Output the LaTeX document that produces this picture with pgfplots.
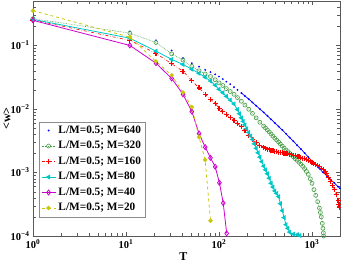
\documentclass[border=0pt]{standalone}
\usepackage{fontspec}
\setmainfont{Liberation Serif}
\usepackage{pgfplots}
\usepackage{pgfplotstable}
\pgfplotsset{compat=1.18}
\definecolor{cB}{rgb}{0,0,1}
\definecolor{cG}{rgb}{0.28,0.62,0.28}
\definecolor{cR}{rgb}{1,0,0}
\definecolor{cC}{rgb}{0,0.78,0.78}
\definecolor{cM}{rgb}{0.8,0,0.8}
\definecolor{cY}{rgb}{0.78,0.78,0.05}

\pgfplotstableread{
T w
1 0.257
11 0.166
21 0.120
31 0.0832
41 0.0631
51 0.0525
61 0.0462
71 0.0412
81 0.0380
91 0.0351
100 0.0324
110 0.0295
120 0.0269
132 0.0245
145 0.0221
158 0.0200
174 0.01786
190 0.0160
209 0.01426
229 0.01265
251 0.01122
275 0.00995
302 0.00883
331 0.0078
363 0.00686
398 0.00603
437 0.0053
479 0.00466
525 0.00407
575 0.00355
631 0.00309
692 0.00269
759 0.00234
832 0.00203
912 0.00175
1000 0.00151
1096 0.00132
1202 0.00115
1318 0.001
1445 0.000883
1585 0.000776
1738 0.000682
1905 0.0006
1995 0.000562
}\tblue

\pgfplotstableread{
T w
1 0.264
11 0.156
21 0.111
31 0.0736
41 0.0589
51 0.0468
61 0.0398
71 0.0355
81 0.0324
91 0.0288
100 0.0257
110 0.0234
120 0.0209
132 0.0188
145 0.0170
158 0.0151
174 0.0132
190 0.0115
209 0.00989
229 0.00851
251 0.00724
275 0.00617
302 0.00537
316 0.00501
331 0.00468
347 0.00434
363 0.00403
380 0.00374
398 0.00347
417 0.00324
437 0.00302
457 0.0028
479 0.0026
501 0.00242
525 0.00226
550 0.00213
575 0.0020
603 0.00188
631 0.00176
661 0.00165
692 0.00155
724 0.00145
759 0.00135
795 0.00125
832 0.00115
871 0.00104
912 0.000933
960 0.000794
1000 0.000676
1050 0.000537
1096 0.000437
1150 0.000347
1202 0.000275
1230 0.000234
1259 0.0002
1290 0.000158
1310 0.000132
1325 0.000112
1333 0.0001
}\tgreen

\pgfplotstableread{
T w
1 0.252
11 0.120
21 0.075
31 0.0513
41 0.0393
51 0.0279
61 0.0214
71 0.0170
81 0.0141
91 0.0123
100 0.0102
110 0.00912
120 0.00813
132 0.00724
145 0.00661
158 0.00589
174 0.00525
190 0.00457
209 0.0038
229 0.00331
251 0.00295
275 0.00269
302 0.00251
316 0.00242
331 0.00234
347 0.00229
363 0.00224
380 0.0022
398 0.00216
417 0.00212
437 0.00209
457 0.00206
479 0.00204
501 0.00202
525 0.0020
550 0.00197
575 0.00195
603 0.0019
631 0.00186
661 0.00183
692 0.0018
724 0.00176
759 0.00172
795 0.00168
832 0.00164
871 0.0016
912 0.00155
955 0.0015
1000 0.00145
1047 0.0014
1096 0.00135
1148 0.00129
1202 0.00123
1259 0.00117
1318 0.0011
1380 0.00103
1445 0.000955
1514 0.00084
1585 0.000724
1660 0.00063
1738 0.000537
1820 0.000447
1905 0.000363
1950 0.000316
1995 0.000282
}\tred

\pgfplotstableread{
T w
1 0.257
11 0.130
21 0.0813
31 0.0603
41 0.0501
51 0.0422
61 0.0363
71 0.0316
81 0.0275
91 0.0237
100 0.0204
110 0.0180
120 0.0158
132 0.0138
145 0.0120
158 0.00977
166 0.00841
174 0.00724
182 0.00638
190 0.00562
199 0.0049
209 0.00427
219 0.00376
229 0.00331
240 0.00282
251 0.0024
263 0.00204
275 0.00174
288 0.00148
302 0.00126
316 0.0011
331 0.000955
347 0.000813
363 0.000676
380 0.000589
398 0.000513
417 0.000468
437 0.000417
457 0.000324
479 0.000251
501 0.000195
525 0.000151
550 0.000132
575 0.000115
631 0.000107
692 0.000105
740 0.000102
}\tcyan

\pgfplotstableread{
T w
1 0.248
11 0.1
21 0.0525
31 0.0302
41 0.017
51 0.0091
61 0.0041
71 0.0025
81 0.0017
91 0.00123
101 0.00069
111 0.00033
121 0.00011
}\tmag

\pgfplotstableread{
T w
1 0.352
11 0.135
21 0.056
31 0.034
41 0.0182
51 0.0107
61 0.0036
71 0.00158
81 0.000174
}\tyel

\begin{document}
\begin{tikzpicture}
\begin{axis}[
  scale only axis, width=307pt, height=235pt,
  xmode=log, ymode=log,
  xmin=1, xmax=2000, ymin=1e-4, ymax=0.5,
  axis line style={black!65}, tick style={black!65},
  xtick={1,10,100,1000},
  xticklabels={\textbf{10\textsuperscript{0}},\textbf{10\textsuperscript{1}},\textbf{10\textsuperscript{2}},\textbf{10\textsuperscript{3}}},
  minor xtick={2,3,4,5,6,7,8,9,20,30,40,50,60,70,80,90,200,300,400,500,600,700,800,900},
  ytick={1e-4,1e-3,1e-2,1e-1},
  yticklabels={\textbf{10\textsuperscript{−4}},\textbf{10\textsuperscript{−3}},\textbf{10\textsuperscript{−2}},\textbf{10\textsuperscript{−1}}},
  minor ytick={2e-4,3e-4,4e-4,5e-4,6e-4,7e-4,8e-4,9e-4,2e-3,3e-3,4e-3,5e-3,6e-3,7e-3,8e-3,9e-3,2e-2,3e-2,4e-2,5e-2,6e-2,7e-2,8e-2,9e-2,0.2,0.3,0.4},
  tick label style={font=\fontsize{10.5}{12}\selectfont\bfseries},
  xlabel={\textbf{T}}, ylabel={\textbf{<w>}},
  label style={font=\fontsize{12}{14}\selectfont\bfseries},
  xlabel style={at={(axis description cs:0.49,-0.088)}, anchor=center},
  ylabel style={at={(axis description cs:-0.085,0.5)}, anchor=center},
  legend style={at={(axis description cs:0.0195,0.081)}, anchor=south west,
    draw=black!45, font=\fontsize{11.3}{13}\selectfont\bfseries,
    row sep=0pt, inner xsep=2pt, inner ysep=1pt,
    nodes={inner sep=2.5pt, text height=8pt, text depth=2.5pt},
    cells={anchor=west}},
  legend image code/.code={\draw[mark repeat=2,mark phase=2,#1] plot coordinates {(0pt,0pt) (7pt,0pt) (14pt,0pt)};},
]
\addplot[cB, only marks, mark=*, mark size=0.7pt] table[x=T,y=w] {\tblue};
\addlegendentry{L/M=0.5; M=640}
\addplot[cG, densely dotted, line width=0.6pt, mark=o, mark size=2pt, mark options={solid, line width=0.6pt}] table[x=T,y=w] {\tgreen};
\addlegendentry{L/M=0.5; M=320}
\addplot[cR, dash dot, line width=0.6pt, mark=+, mark size=2.5pt, mark options={solid, line width=1.2pt}] table[x=T,y=w] {\tred};
\addlegendentry{L/M=0.5; M=160}
\addplot[cC, solid, line width=0.8pt, mark=triangle*, mark size=2.1pt, mark options={solid, rotate=90}] table[x=T,y=w] {\tcyan};
\addlegendentry{L/M=0.5; M=80}
\addplot[cM, solid, line width=0.8pt, mark=diamond, mark size=2.5pt, mark options={solid, line width=0.8pt}] table[x=T,y=w] {\tmag};
\addlegendentry{L/M=0.5; M=40}
\addplot[cY, dashed, line width=0.8pt, mark=*, mark size=1.8pt, mark options={solid}] table[x=T,y=w] {\tyel};
\addlegendentry{L/M=0.5; M=20}
\addplot[cB, line width=0.7pt, forget plot, skip coords between index={0}{16}] table[x=T,y=w] {\tblue};
\end{axis}
\pgfresetboundingbox
\path[use as bounding box] ([shift={(-33pt,-26pt)}]current axis.south west) rectangle ([shift={(1pt,1pt)}]current axis.north east);
\end{tikzpicture}
\end{document}
